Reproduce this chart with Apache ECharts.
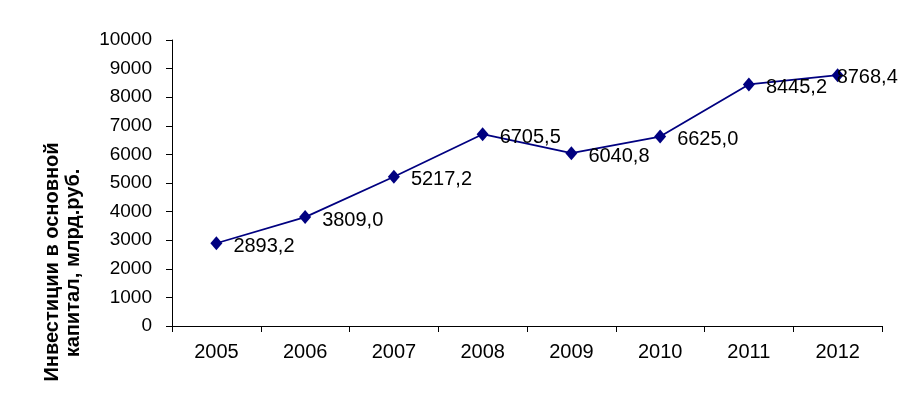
<!DOCTYPE html>
<html>
<head>
<meta charset="utf-8">
<script src="https://cdn.jsdelivr.net/npm/echarts@6/dist/echarts.min.js"></script>
<style>
  html, body { margin: 0; padding: 0; background: #fff; }
  #chart { width: 908px; height: 397px; }
</style>
</head>
<body>
<div id="chart"></div>
<script>
// годы и инвестиции в основной капитал, млрд.руб.
const years = ["2005", "2006", "2007", "2008", "2009", "2010", "2011", "2012"];
const investments = [2893.2, 3809.0, 5217.2, 6705.5, 6040.8, 6625.0, 8445.2, 8768.4];
const yTitle = ["Инвестиции в основной", "капитал, млрд.руб."];

const chart = echarts.init(document.getElementById("chart"));

const font = "Liberation Sans, Arial";

// последняя подпись сдвинута влево, чтобы не выходить за край
const seriesData = investments.map((v, i) =>
  i === investments.length - 1
    ? { value: v, label: { offset: [-18, 2] } }
    : v
);

const options = {
  animation: false,
  grid: {
    left: 172,
    right: 26,
    top: 40,
    bottom: 71,
  },
  // подпись оси Y (смещена вниз, как в оригинале)
  graphic: [
    {
      type: "text",
      x: 52,
      y: 262,
      rotation: Math.PI / 2,
      style: {
        text: yTitle[0],
        fill: "#000",
        font: "bold 20px " + font,
        textAlign: "center",
        textVerticalAlign: "middle",
      },
    },
    {
      type: "text",
      x: 73,
      y: 263,
      rotation: Math.PI / 2,
      style: {
        text: yTitle[1],
        fill: "#000",
        font: "bold 20px " + font,
        textAlign: "center",
        textVerticalAlign: "middle",
      },
    },
  ],
  xAxis: {
    type: "category",
    boundaryGap: true,
    data: years,
    axisLine: { lineStyle: { color: "#000", width: 1 } },
    axisTick: { show: true, inside: false, length: 6, lineStyle: { color: "#000" } },
    axisLabel: {
      color: "#000",
      fontFamily: font,
      fontSize: 20,
      margin: 16,
    },
  },
  yAxis: {
    type: "value",
    min: 0,
    max: 10000,
    interval: 1000,
    splitLine: { show: false },
    axisLine: { show: true, lineStyle: { color: "#000", width: 1 } },
    axisTick: { show: true, length: 6, lineStyle: { color: "#000" } },
    axisLabel: {
      color: "#000",
      fontFamily: font,
      fontSize: 19,
      margin: 20,
      formatter: (v) => String(v),
    },
  },
  series: [
    {
      type: "line",
      data: seriesData,
      symbol: "diamond",
      symbolSize: [12, 14],
      lineStyle: { color: "#000080", width: 1.8 },
      itemStyle: { color: "#000080" },
      label: {
        show: true,
        position: "right",
        distance: 11,
        offset: [0, 3],
        color: "#000",
        fontFamily: font,
        fontSize: 20,
        formatter: (p) => p.value.toFixed(1).replace(".", ","),
      },
    },
  ],
};

chart.setOption(options);
</script>
</body>
</html>
